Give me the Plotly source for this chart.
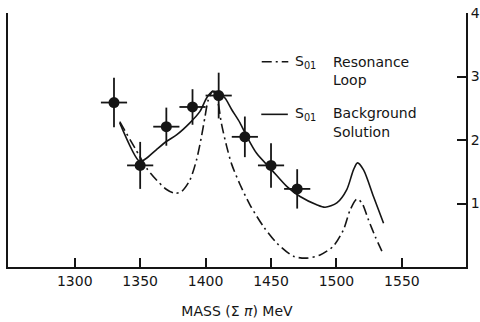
import plotly.graph_objects as go

# Data points (mass MeV, value, errors)
mass_pts = [1330, 1350, 1370, 1390, 1410, 1430, 1450, 1470]
val_pts = [2.59, 1.60, 2.21, 2.52, 2.70, 2.05, 1.60, 1.23]
err_y = [0.39, 0.37, 0.30, 0.28, 0.36, 0.32, 0.35, 0.31]
err_x = [10, 10, 10, 10, 10, 10, 10, 10]

# S01 Background Solution (solid)
bg_mass = [1334.4, 1349.7, 1354.0, 1362.5, 1370.2, 1377.8, 1388.0, 1395.7,
           1401.0, 1405.0, 1409.0, 1414.8, 1419.9, 1426.3, 1431.4, 1439.0, 1450.5, 1462.0,
           1472.2, 1484.9, 1491.3, 1500.3, 1507.9, 1513.0, 1516.1, 1520.7, 1528.3, 1536.0]
bg_val = [2.27, 1.66, 1.70, 1.85, 1.98, 2.08, 2.27, 2.45,
          2.67, 2.76, 2.76, 2.66, 2.48, 2.27, 2.06, 1.79, 1.53, 1.27,
          1.11, 0.98, 0.94, 1.01, 1.22, 1.53, 1.64, 1.53, 1.11, 0.69]

# S01 Resonance Loop (dash-dot)
res_mass = [1334.4, 1349.7, 1354.8, 1362.5, 1370.2, 1376.5, 1381.6, 1388.0, 1393.1, 1396.9,
            1399.5, 1402.0, 1405.5, 1409.0, 1412.2, 1416.1, 1419.9, 1426.3, 1433.9,
            1444.1, 1454.3, 1467.1, 1477.3, 1487.5, 1497.7, 1505.4, 1510.5, 1515.6, 1519.4,
            1524.5, 1529.6, 1534.7]
res_val = [2.29, 1.74, 1.56, 1.37, 1.22, 1.16, 1.19, 1.37, 1.69, 2.06,
           2.36, 2.63, 2.77, 2.63, 2.25, 1.90, 1.62, 1.30, 0.98,
           0.64, 0.38, 0.17, 0.14, 0.19, 0.33, 0.59, 0.90, 1.07, 1.01,
           0.74, 0.48, 0.25]

x_ticks = [1300, 1350, 1400, 1450, 1500, 1550]
y_ticks = [1, 2, 3, 4]

INK = "#151515"
FONT = "DejaVu Sans"
DASHDOT = "10px,4px,2px,4px"

fig = go.Figure()
fig.add_trace(go.Scatter(x=res_mass, y=res_val, mode="lines",
                         line=dict(color=INK, width=1.6, dash=DASHDOT, shape="spline", smoothing=0.8),
                         showlegend=False))
fig.add_trace(go.Scatter(x=bg_mass, y=bg_val, mode="lines",
                         line=dict(color=INK, width=1.6, shape="spline", smoothing=0.8),
                         showlegend=False))
fig.add_trace(go.Scatter(
    x=mass_pts, y=val_pts, mode="markers",
    marker=dict(color=INK, size=11),
    error_x=dict(type="data", array=err_x, color=INK, thickness=1.8, width=0),
    error_y=dict(type="data", array=err_y, color=INK, thickness=1.8, width=0),
    showlegend=False))

# legend sample lines
fig.add_shape(type="line", xref="paper", yref="paper", x0=0.554, x1=0.612, y0=0.808, y1=0.808,
              line=dict(color=INK, width=1.6, dash=DASHDOT))
fig.add_shape(type="line", xref="paper", yref="paper", x0=0.553, x1=0.611, y0=0.601, y1=0.601,
              line=dict(color=INK, width=1.6))

tf = dict(family=FONT, size=14, color=INK)
ann = [
    ("S<sub>01</sub>", 0.623, 0.806),
    ("Resonance", 0.706, 0.808),
    ("Loop", 0.706, 0.736),
    ("S<sub>01</sub>", 0.623, 0.601),
    ("Background", 0.706, 0.606),
    ("Solution", 0.706, 0.531),
]
for t, x, y in ann:
    fig.add_annotation(text=t, x=x, y=y, xref="paper", yref="paper", xanchor="left", yanchor="middle",
                       showarrow=False, font=tf)

fig.update_layout(
    width=480, height=322,
    margin=dict(l=8, r=14, t=13, b=55, autoexpand=False),
    paper_bgcolor="white", plot_bgcolor="white",
    font=dict(family=FONT, size=14, color=INK),
    xaxis=dict(range=[1249, 1599], tickvals=x_ticks, ticks="inside", ticklen=9, tickwidth=1.5,
               tickcolor=INK, showline=True, linecolor=INK, linewidth=2, showgrid=False, zeroline=False,
               tickfont=dict(family=FONT, size=14, color=INK),
               title=dict(text="MASS (Σ <i>π</i>) MeV", font=dict(family=FONT, size=14, color=INK), standoff=18)),
    yaxis=dict(range=[0, 4], side="right", tickvals=y_ticks, ticks="inside", ticklen=9, tickwidth=1.5,
               tickcolor=INK, showline=True, linecolor=INK, linewidth=2, mirror=True, showgrid=False,
               zeroline=False, tickfont=dict(family=FONT, size=14, color=INK)),
)

fig.write_html("out.html", config={"displayModeBar": False},
               post_script="document.body.style.margin='0';")
